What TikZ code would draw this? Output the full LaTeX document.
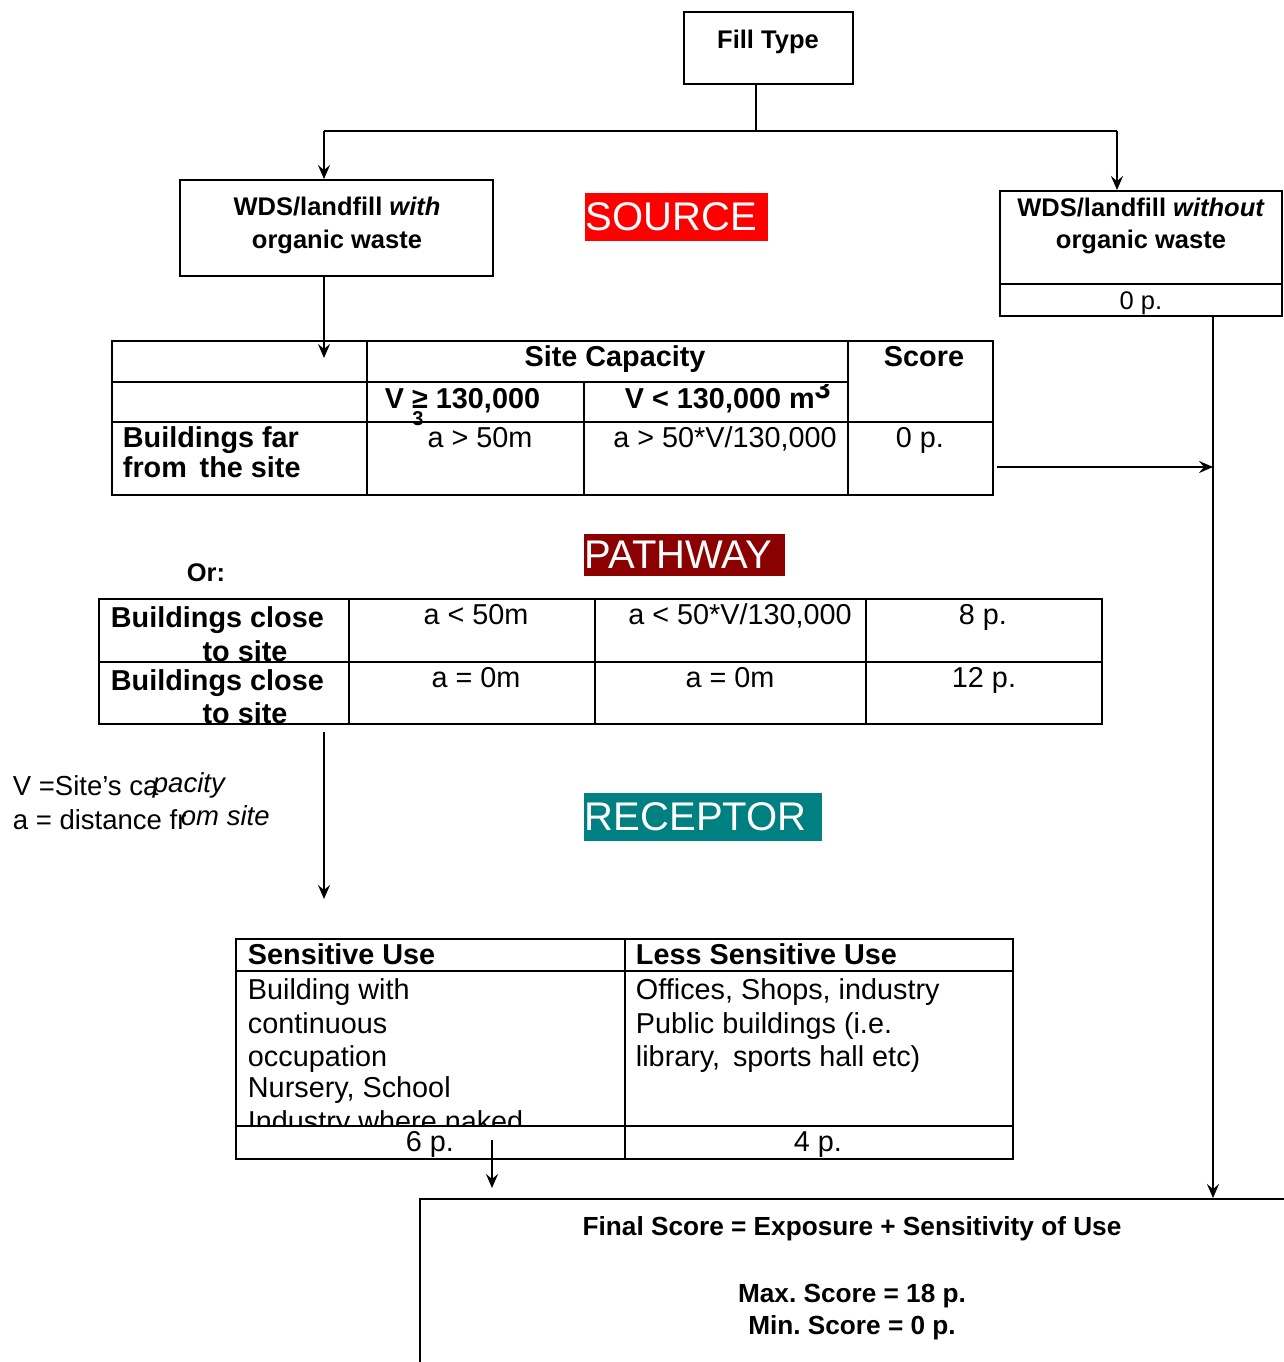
\documentclass[tikz,border=0pt]{standalone}
\usepackage{fontspec}
\setmainfont{Liberation Sans}
\usetikzlibrary{arrows.meta}
\definecolor{srcred}{RGB}{255,0,0}
\definecolor{pathred}{RGB}{139,0,0}
\definecolor{recteal}{RGB}{0,128,128}
\newcommand\fA{\fontsize{25.5}{31}\selectfont}
\newcommand\fF{\fontsize{26.2}{31}\selectfont}
\newcommand\fT{\fontsize{28.8}{33}\selectfont}
\newcommand\fL{\fontsize{27.5}{33}\selectfont}
\newcommand\fS{\fontsize{40}{48}\selectfont}
\frenchspacing
\begin{document}
\frenchspacing
\begin{tikzpicture}[x=1pt,y=-1pt,line width=1.9pt,
  box/.style={draw,inner sep=0pt},
  txt/.style={inner sep=0pt,anchor=base},
  txtw/.style={inner sep=0pt,anchor=base west},
  arr/.style={-{Stealth[length=14pt,width=12pt,inset=5pt]}},
  tag/.style={inner sep=0pt,anchor=north west,text=white,font=\fS}]
\useasboundingbox (0,0) rectangle (1283,1362);

% boxes
\node[box,minimum width=169pt,minimum height=72pt] (fill) at (768.5,48) {};
\node[txt,font=\fA\bfseries] (fillT) at (768,49) {Fill Type};
\node[box,minimum width=313pt,minimum height=96pt] (wdsw) at (336.5,228) {};
\node[txt,font=\fA\bfseries] (wdswT1) at (337,215) {WDS/landfill \textit{with}};
\node[txt,font=\fA\bfseries] (wdswT2) at (337,248) {organic waste};
\node[box,minimum width=282pt,minimum height=125pt] (wdso) at (1141,253.5) {};
\draw (wdso.west |- 0,284) -- (wdso.east |- 0,284);
\node[txt,font=\fA\bfseries] (wdsoT1) at (1141,216) {WDS/landfill \textit{without}};
\node[txt,font=\fA\bfseries] (wdsoT2) at (1141,248) {organic waste};
\node[txt,font=\fA] (wdsoT3) at (1141,309) {0 p.};

% tags
\node[tag,fill=srcred,minimum width=183pt,minimum height=48pt,text width=181pt,inner xsep=1pt,align=left] (src) at (584,192) {SOURCE};
\node[tag,fill=pathred,minimum width=201pt,minimum height=42pt,text width=199pt,inner xsep=1pt,align=left] (path) at (583,533) {PATHWAY};
\node[tag,fill=recteal,minimum width=238pt,minimum height=48pt,text width=236pt,inner xsep=1pt,align=left] (rec) at (583,792) {RECEPTOR};

% table 1
\node[box,minimum width=881pt,minimum height=154pt] (t1) at (552.5,418) {};
\draw (112,382) -- (848,382);
\draw (112,422) -- (993,422);
\draw (367,341) -- (367,495);
\draw (584,382) -- (584,495);
\draw (848,341) -- (848,495);
\node[txt,font=\fT\bfseries] (sc) at (615,366) {Site Capacity};
\node[txt,font=\fT\bfseries] (score) at (924,366) {Score};
\node[txtw,font=\fT\bfseries] (vge) at (384,408) {V ≥ 130,000};
\node[txt,font=\fontsize{20}{20}\selectfont\bfseries] (vge3) at (418,425) {3};
\begin{scope}
\clip (586,384) rectangle (846,421);
\node[txtw,font=\fT\bfseries] (vlt) at (624,408) {V < 130,000 m\raisebox{10pt}{3}};
\end{scope}
\node[txtw,font=\fT\bfseries] (far1) at (122,447) {Buildings far};
\node[txtw,font=\fT\bfseries] (far2) at (122,477) {from\, the site};
\node[txt,font=\fT] (c11) at (480,447) {a > 50m};
\node[txt,font=\fT] (c12) at (725,447) {a > 50*V/130,000};
\node[txt,font=\fT] (c13) at (920,447) {0 p.};

% Or
\node[txt,font=\fA\bfseries] (or) at (206,581) {Or:};

% table 2
\node[box,minimum width=1003pt,minimum height=125pt] (t2) at (600.5,661.5) {};
\draw (99,662) -- (1102,662);
\draw (349,599) -- (349,724);
\draw (595,599) -- (595,724);
\draw (866,599) -- (866,724);
\node[txtw,font=\fT\bfseries] (cl1) at (110,627) {Buildings close};
\node[txt,font=\fT\bfseries] (cl1b) at (245,661) {to site};
\node[txtw,font=\fT\bfseries] (cl2) at (110,690) {Buildings close};
\node[txt,font=\fT\bfseries] (cl2b) at (245,723) {to site};
\node[txt,font=\fT] (c21) at (476,624) {a < 50m};
\node[txt,font=\fT] (c22) at (740,624) {a < 50*V/130,000};
\node[txt,font=\fT] (c23) at (983,624) {8 p.};
\node[txt,font=\fT] (c31) at (476,687) {a = 0m};
\node[txt,font=\fT] (c32) at (730,687) {a = 0m};
\node[txt,font=\fT] (c33) at (984,687) {12 p.};

% legend
\node[txtw,font=\fL] (lg1) at (12,795) {V =Site’s ca};
\node[txtw,font=\fL\itshape] (lg1b) at (152,792) {pacity};
\node[txtw,font=\fL] (lg2) at (12,829) {a = distance fr};
\node[txtw,font=\fL\itshape] (lg2b) at (180,825) {om site};

% table 3
\node[box,minimum width=777pt,minimum height=220pt] (t3) at (624.5,1049) {};
\draw (236,971) -- (1013,971);
\draw (236,1126) -- (1013,1126);
\draw (625,939) -- (625,1159);
\node[txtw,font=\fT\bfseries] (su) at (247,964) {Sensitive Use};
\node[txtw,font=\fT\bfseries] (lsu) at (635,964) {Less Sensitive Use};
\node[txtw,font=\fT] (s1) at (247,999) {Building with};
\node[txtw,font=\fT] (s2) at (247,1033) {continuous};
\node[txtw,font=\fT] (s3) at (247,1066) {occupation};
\node[txtw,font=\fT] (s4) at (247,1097) {Nursery, School};
\begin{scope}
\clip (238,1090) rectangle (623,1125);
\node[txtw,font=\fT] (s5) at (247,1131) {Industry where naked};
\end{scope}
\node[txtw,font=\fT] (l1) at (635,999) {Offices, Shops, industry};
\node[txtw,font=\fT] (l2) at (635,1033) {Public buildings (i.e.};
\node[txtw,font=\fT] (l3) at (635,1066) {library,\, sports hall etc)};
\node[txt,font=\fT] (sp6) at (430,1151) {6 p.};
\node[txt,font=\fT] (sp4) at (818,1151) {4 p.};

% final box
\node[box,minimum width=880pt,minimum height=201pt] (final) at (860,1299.5) {};
\node[txt,font=\fF\bfseries] (fs1) at (852,1235) {Final Score = Exposure + Sensitivity of Use};
\node[txt,font=\fF\bfseries] (fs2) at (852,1302) {Max. Score = 18 p.};
\node[txt,font=\fF\bfseries] (fs3) at (852,1334) {Min. Score = 0 p.};

% connectors
\coordinate (fj) at (756,131);
\coordinate (lj) at (324,131);
\coordinate (rj) at (1117,131);
\coordinate (trunk) at (1213,316);
\draw (fj |- fill.south) -- (fj);
\draw (lj) -- (rj);
\draw[arr] (lj) -- (lj |- wdsw.north);
\draw[arr] (rj) -- (rj |- wdso.north);
\draw[arr] (lj |- wdsw.south) -- (324,358);
\draw[arr] (trunk |- wdso.south) -- (trunk |- final.north);
\draw[arr] (997,467) -- (trunk |- 0,467);
\draw[arr] (324,732) -- (324,899);
\draw[arr] (492,1140) -- (492,1188);
\end{tikzpicture}
\end{document}
